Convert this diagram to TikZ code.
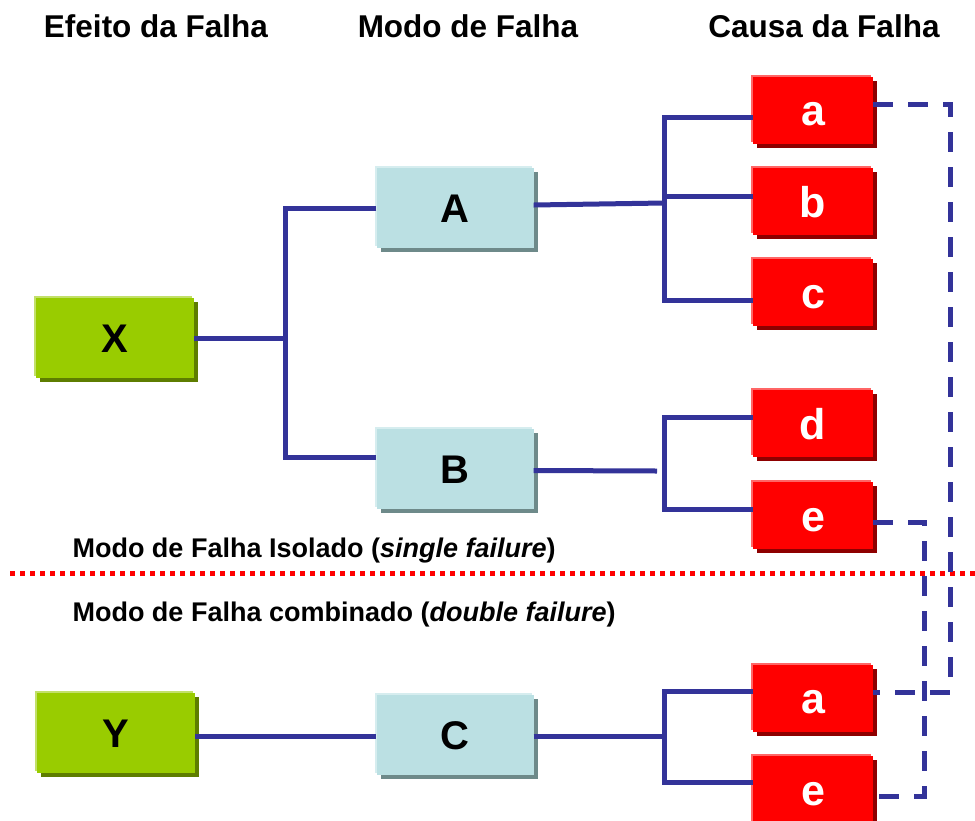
\documentclass[tikz,border=0pt]{standalone}
\usepackage{fontspec}
\setmainfont{Liberation Sans}
\usetikzlibrary{shadows}
\definecolor{navy}{HTML}{333399}
\definecolor{gfill}{HTML}{99CC00}
\definecolor{glight}{HTML}{C2E06A}
\definecolor{gdark}{HTML}{5E7D00}
\definecolor{bfill}{HTML}{BBE0E3}
\definecolor{blight}{HTML}{D6EDEF}
\definecolor{bdark}{HTML}{6E8A8A}
\definecolor{rfill}{HTML}{FF0000}
\definecolor{rlight}{HTML}{FF6666}
\definecolor{rdark}{HTML}{8E0000}
\definecolor{dotred}{HTML}{FF0000}
\begin{document}
\begin{tikzpicture}[x=1pt,y=-1pt,
  box/.style={inner sep=0pt, text height=28.6pt, text depth=0pt,
    font=\bfseries\fontsize{40}{40}\selectfont},
  greenbox/.style={box, fill=gfill, minimum width=158pt, minimum height=80pt,
    general shadow={fill=glight, shadow xshift=-2pt, shadow yshift=2pt},
    general shadow={fill=gdark, shadow xshift=4pt, shadow yshift=-4pt}},
  bluebox/.style={box, fill=bfill, minimum width=157pt, minimum height=80pt,
    general shadow={fill=blight, shadow xshift=-2pt, shadow yshift=2pt},
    general shadow={fill=bdark, shadow xshift=4pt, shadow yshift=-4pt}},
  redbox/.style={box, fill=rfill, text=white, minimum width=120pt, minimum height=67pt,
    text height=31pt, font=\bfseries\fontsize{43}{43}\selectfont,
    general shadow={fill=rlight, shadow xshift=-2pt, shadow yshift=2pt},
    general shadow={fill=rdark, shadow xshift=4pt, shadow yshift=-4pt}},
  conn/.style={draw=navy, line width=5pt},
  dashconn/.style={draw=navy, line width=5pt, dash pattern=on 20pt off 15pt},
  sepline/.style={draw=dotred, line width=5pt, dash pattern=on 5pt off 5pt},
  title/.style={anchor=base, font=\bfseries\fontsize{31.5}{36}\selectfont},
  sublabel/.style={anchor=base west, font=\bfseries\fontsize{27}{30}\selectfont}]
\useasboundingbox (0,0) rectangle (975,820);

% titles
\node[title] (t1) at (156,37) {Efeito da Falha};
\node[title] (t2) at (468,37) {Modo de Falha};
\node[title] (t3) at (824,37) {Causa da Falha};

% boxes
\node[greenbox] (X) at (115,338) {X};
\node[greenbox] (Y) at (116,733) {Y};
\node[bluebox] (A) at (455,208) {A};
\node[bluebox] (B) at (455,469) {B};
\node[bluebox] (C) at (455,735) {C};
\node[redbox] (a1) at (813,110) {a};
\node[redbox] (b) at (813,201.5) {b};
\node[redbox] (c) at (813,292.5) {c};
\node[redbox] (d) at (813,423.5) {d};
\node[redbox] (e1) at (813,515.5) {e};
\node[redbox] (a2) at (813,698) {a};
\node[redbox] (e2) at (813,789.5) {e};

% labels
\node[sublabel] (l1) at (69,557) {Modo de Falha Isolado (\textit{single failure})};
\node[sublabel] (l2) at (69,621) {Modo de Falha combinado (\textit{double failure})};

% separator
\coordinate (sepL) at (10,573);
\coordinate (sepR) at (975,573);
\draw[sepline] (sepL) -- (sepR);

% junctions
\coordinate (j1) at (285,338);
\coordinate (j2) at (664,203);
\coordinate (j3) at (664,463);
\coordinate (j3b) at (657,471);
\coordinate (j4) at (664,736);

% solid connectors
\draw[conn] (X.east) -- (j1);
\draw[conn] (A.west) -| (j1) |- ([yshift=12pt]B.west);
\draw[conn] ([yshift=3pt]A.east) -- (j2);
\draw[conn] ([yshift=-7pt]a1.west) -| (j2) |- ([yshift=-7.5pt]c.west);
\draw[conn] ([yshift=5.5pt]b.west) -- ++(-89,0);
\draw[conn] ([yshift=-1.5pt]B.east) -- (j3b);
\draw[conn] ([yshift=6.5pt]d.west) -| (j3) |- ([yshift=6.5pt]e1.west);
\draw[conn] ([yshift=-3pt]Y.east) -- ([yshift=-1pt]C.west);
\draw[conn] ([yshift=-1pt]C.east) -- (j4);
\draw[conn] ([yshift=7pt]a2.west) -| (j4) |- ([yshift=7pt]e2.west);

% dashed connectors
\coordinate (d1) at (950,104);
\coordinate (d2) at (950,692);
\coordinate (d3) at (924,522);
\coordinate (d4) at (924,796);
\draw[dashconn] ([yshift=6pt]a1.east) -- (d1) -- (d2) -- ([yshift=6pt]a2.east);
\draw[dashconn] ([yshift=-6.5pt]e1.east) -- (d3) -- (d4) -- ([yshift=-6.5pt]e2.east);
\end{tikzpicture}
\end{document}
